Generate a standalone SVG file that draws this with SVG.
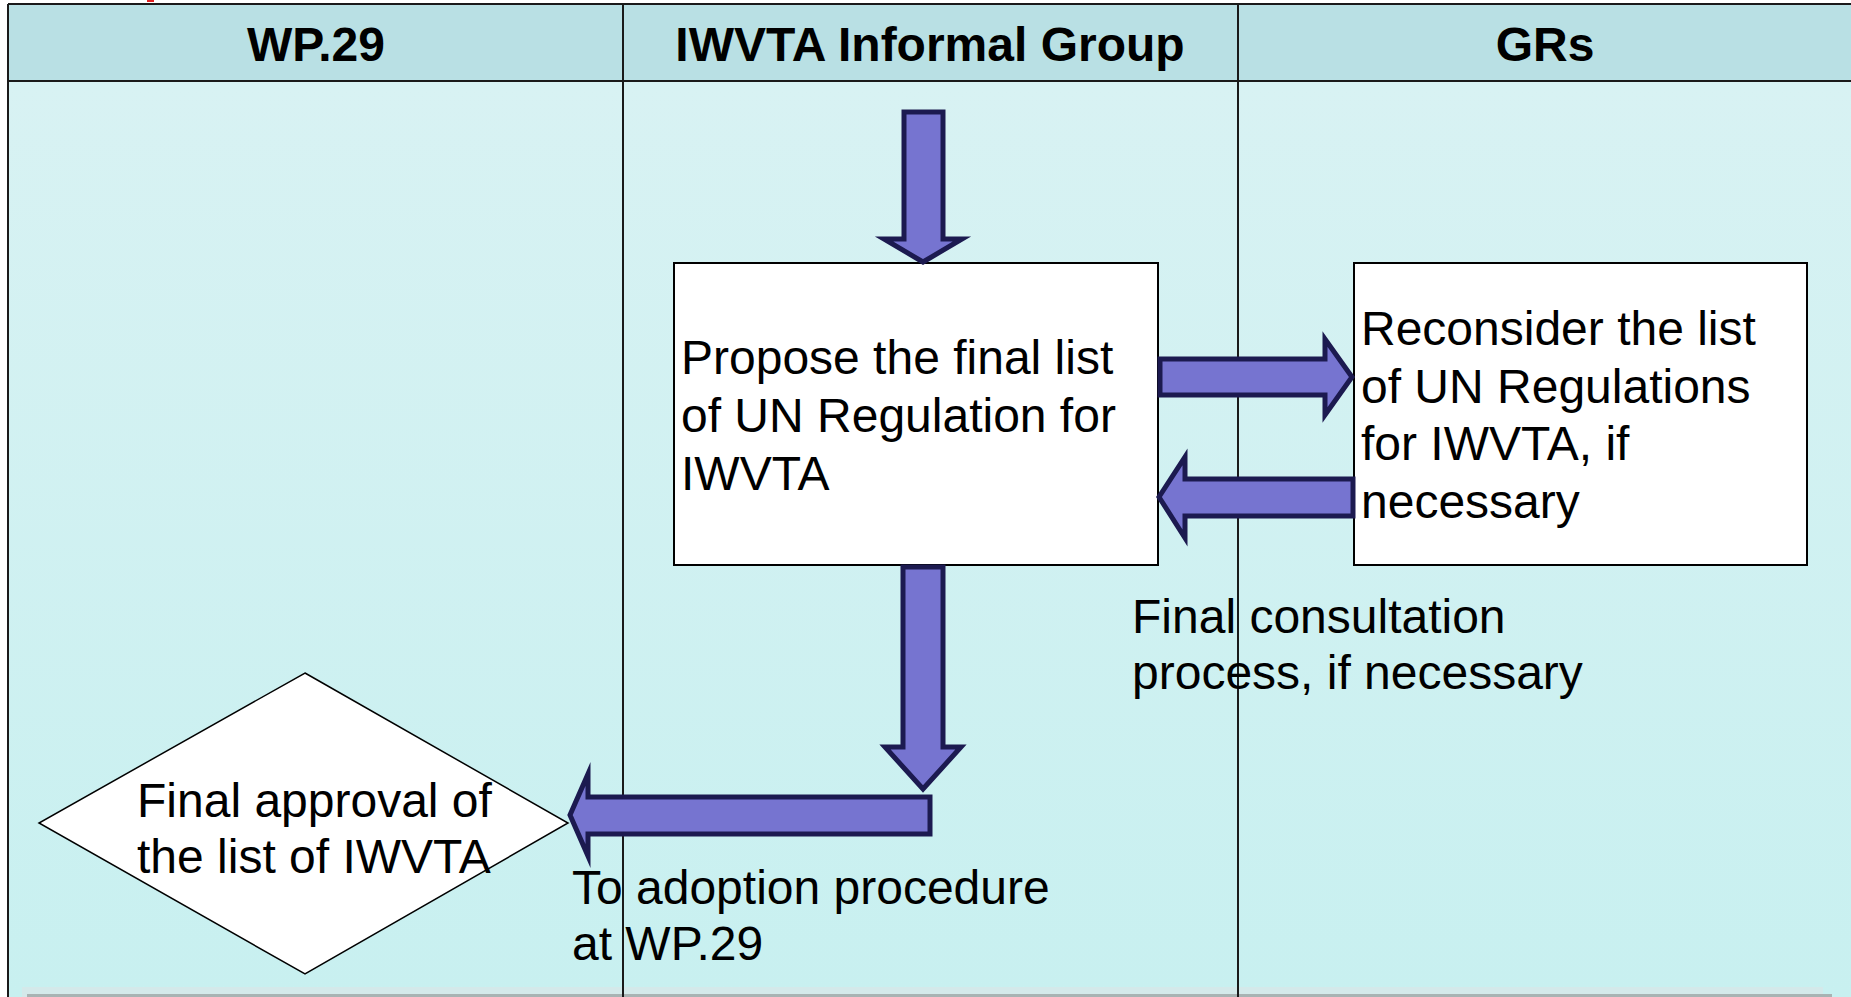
<svg xmlns="http://www.w3.org/2000/svg" width="1851" height="997" viewBox="0 0 1851 997">
<defs>
<linearGradient id="bodyg" x1="0" y1="0" x2="0" y2="1">
<stop offset="0" stop-color="#d8f2f3"/>
<stop offset="1" stop-color="#c8f0f0"/>
</linearGradient>
<style>
.hdr{font-family:"Liberation Sans",Arial,sans-serif;font-weight:bold;font-size:48px;fill:#000;text-anchor:middle}
.txt{font-family:"Liberation Sans",Arial,sans-serif;font-size:48px;fill:#000}
.box{fill:#fff;stroke:#000;stroke-width:2}
.arr{fill:#7674d0;stroke:#1c1a50;stroke-width:5;stroke-linejoin:miter;stroke-miterlimit:10}
.ln{stroke:#1a1a1a;stroke-width:2;fill:none}
</style>
</defs>
<rect x="0" y="0" width="1851" height="997" fill="#ffffff"/>
<g id="lanes">
<rect x="8" y="4" width="1843" height="77" fill="#b9e0e4"/>
<rect x="8" y="81" width="1843" height="916" fill="url(#bodyg)"/>
<rect x="22" y="987" width="1801" height="10" fill="#d4e9ea"/>
<rect x="27" y="994" width="1805" height="3" fill="#a8b3b3"/>
<line class="ln" x1="8" y1="4" x2="1851" y2="4" stroke="#333"/>
<line class="ln" x1="8" y1="81" x2="1851" y2="81"/>
<line class="ln" x1="8" y1="4" x2="8" y2="997" stroke-width="3"/>
<line class="ln" x1="623" y1="4" x2="623" y2="997"/>
<line class="ln" x1="1238" y1="4" x2="1238" y2="997"/>
<rect x="147" y="0" width="7" height="2" fill="#e02020"/>
<text class="hdr" x="316" y="61">WP.29</text>
<text class="hdr" x="930" y="61">IWVTA Informal Group</text>
<text class="hdr" x="1545" y="61">GRs</text>
</g>
<g id="propose">
<rect class="box" x="674" y="263" width="484" height="302"/>
<text class="txt" x="681" y="374">Propose the final list</text>
<text class="txt" x="681" y="432">of UN Regulation for</text>
<text class="txt" x="681" y="490">IWVTA</text>
</g>
<g id="reconsider">
<rect class="box" x="1354" y="263" width="453" height="302"/>
<text class="txt" x="1361" y="345">Reconsider the list</text>
<text class="txt" x="1361" y="403">of UN Regulations</text>
<text class="txt" x="1361" y="460">for IWVTA, if</text>
<text class="txt" x="1361" y="518">necessary</text>
</g>
<g id="approval">
<polygon points="305,673 568,823 305,974 39,823" fill="#fff" stroke="#000" stroke-width="1.5"/>
<text class="txt" x="137" y="817">Final approval of</text>
<text class="txt" x="137" y="873">the list of IWVTA</text>
</g>
<g id="connectors">
<polygon class="arr" points="904,112 943,112 943,239 962,239 923,262 884,239 904,239"/>
<polygon class="arr" points="1160,359 1325,359 1325,339 1352,377 1325,415 1325,395 1160,395"/>
<polygon class="arr" points="1353,479 1185,479 1185,457 1159,497 1185,538 1185,516 1353,516"/>
<polygon class="arr" points="903,567 943,567 943,747 961,747 923,789 885,747 903,747"/>
<polygon class="arr" points="930,797 588,797 588,774 570,815 588,856 588,834 930,834"/>
<text class="txt" x="1132" y="633">Final consultation</text>
<text class="txt" x="1132" y="689">process, if necessary</text>
<text class="txt" x="572" y="904">To adoption procedure</text>
<text class="txt" x="572" y="960">at WP.29</text>
</g>
</svg>
